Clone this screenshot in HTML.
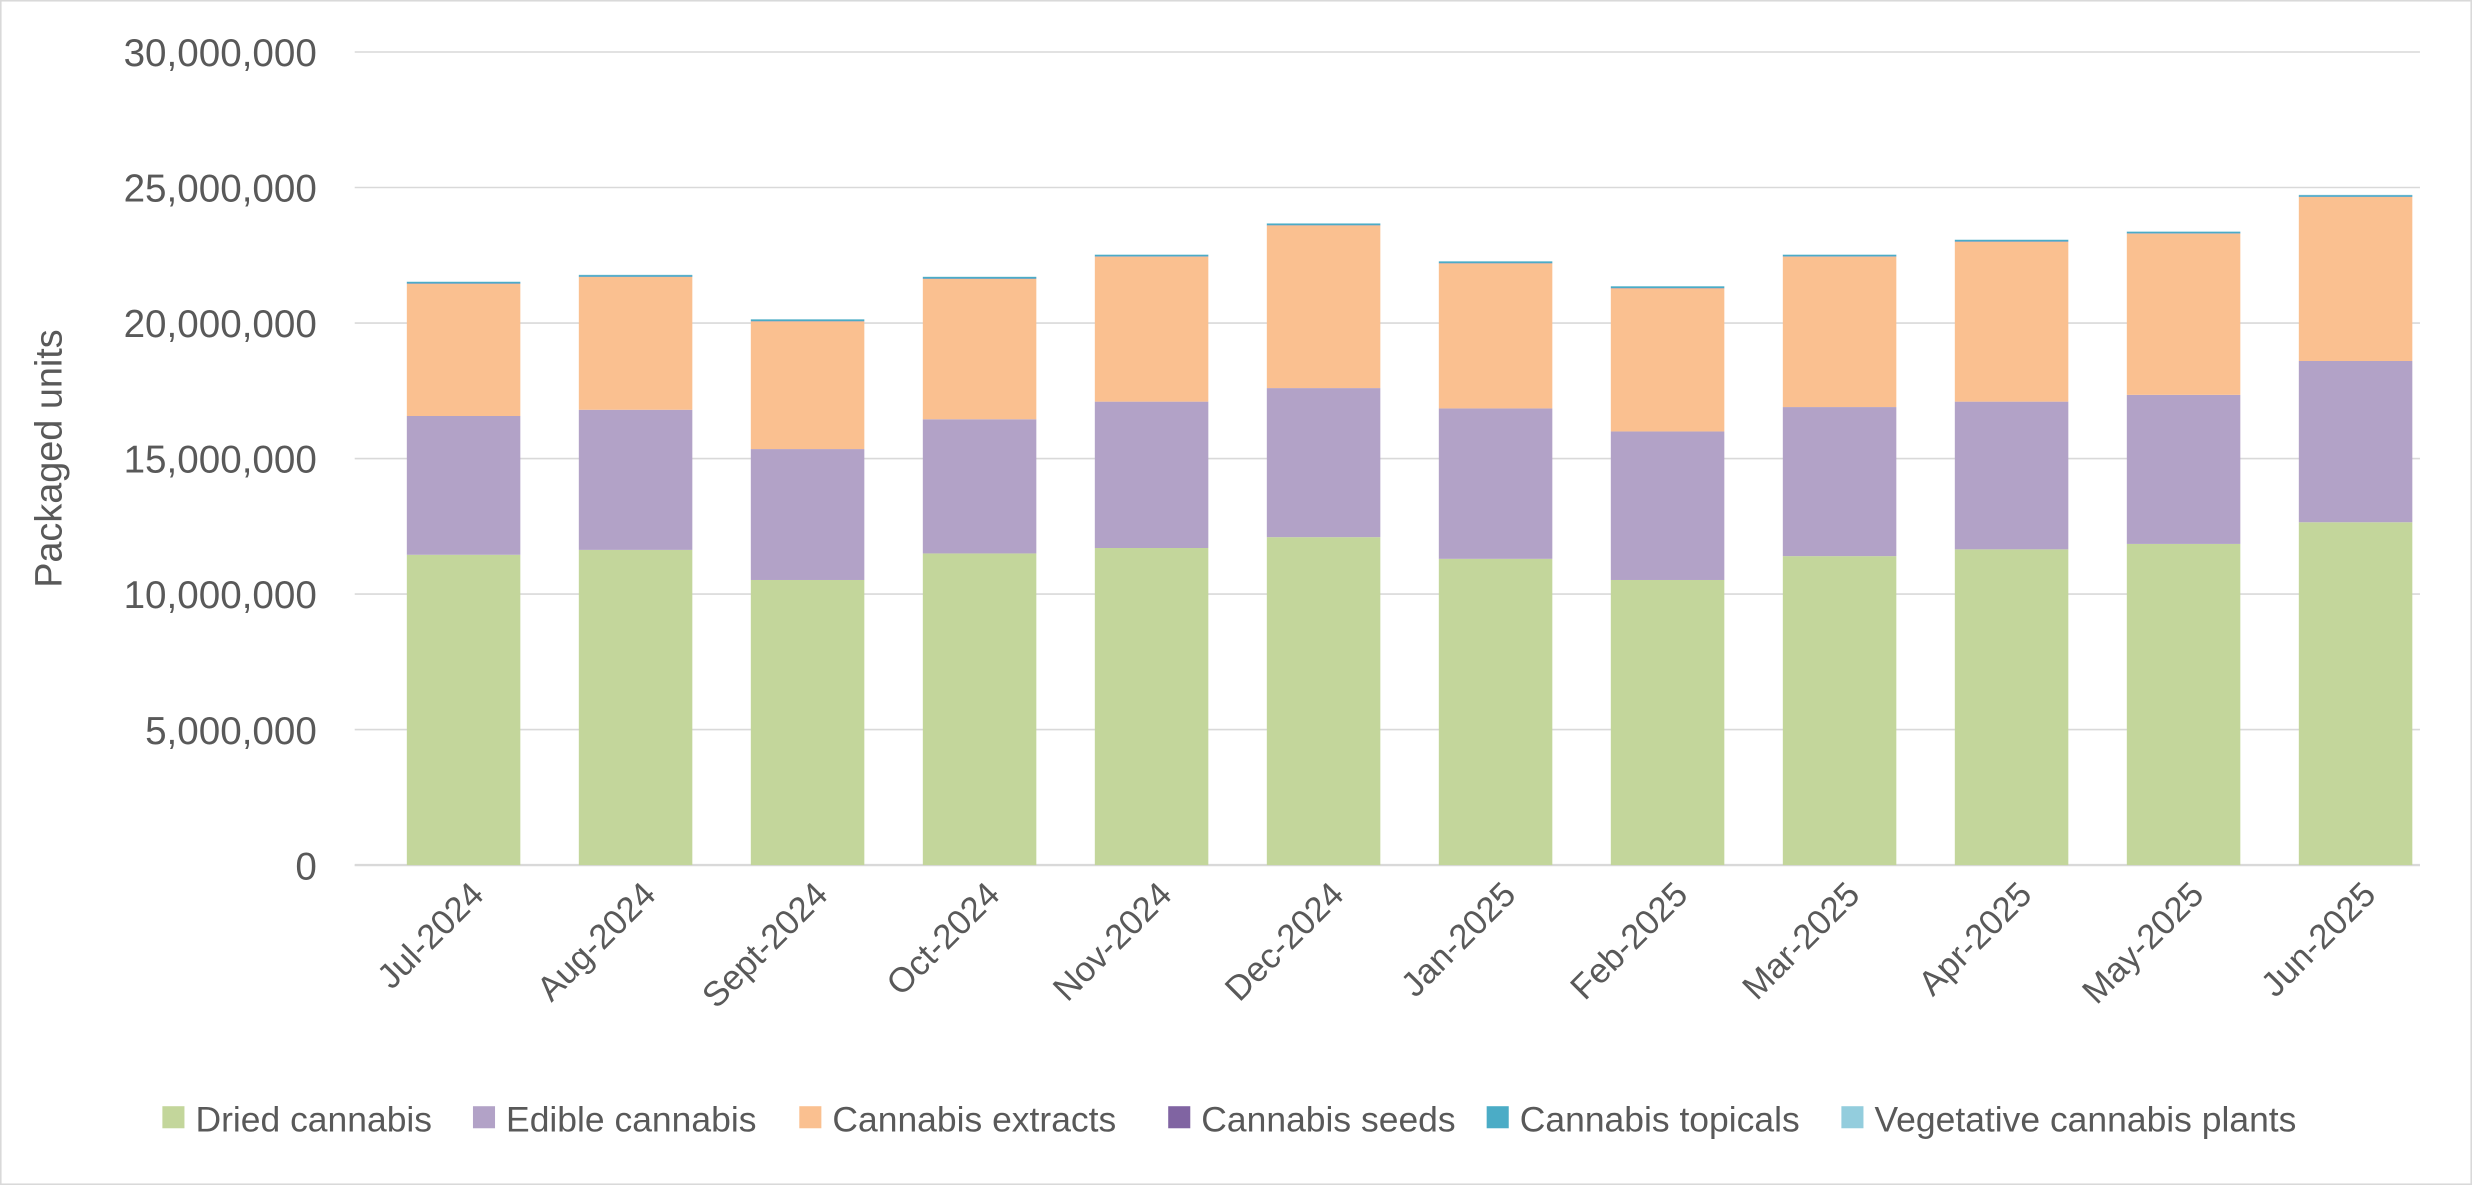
<!DOCTYPE html>
<html><head><meta charset="utf-8"><style>
body{margin:0;background:#fff;}
svg{display:block;font-family:"Liberation Sans",sans-serif;}
</style></head><body>
<svg id="chart" width="2472" height="1185" viewBox="0 0 1568 752" preserveAspectRatio="none" xmlns="http://www.w3.org/2000/svg">
<rect x="0.5" y="0.5" width="1567" height="751" fill="#fff" stroke="#d9d9d9"/>
<g id="grid"></g><g id="bars"></g><g id="ylabels"></g><g id="xlabels"></g>
<text transform="translate(39,291) rotate(-90)" text-anchor="middle" font-size="24" fill="#595959">Packaged units</text>
<g id="legend"></g>
</svg>
<script>
const categories=["Jul-2024","Aug-2024","Sept-2024","Oct-2024","Nov-2024","Dec-2024","Jan-2025","Feb-2025","Mar-2025","Apr-2025","May-2025","Jun-2025"];
const dried=[11450000,11630000,10520000,11500000,11700000,12100000,11300000,10520000,11400000,11650000,11850000,12650000];
const edible=[5120000,5170000,4830000,4950000,5400000,5500000,5550000,5480000,5500000,5450000,5500000,5950000];
const extracts=[4880000,4900000,4710000,5180000,5350000,6000000,5350000,5280000,5550000,5900000,5950000,6050000];
const seeds=[10000,10000,10000,10000,10000,10000,10000,10000,10000,10000,10000,10000];
const topicals=[60000,60000,60000,60000,60000,60000,60000,60000,60000,60000,60000,60000];
const vegetative=[10000,10000,10000,10000,10000,10000,10000,10000,10000,10000,10000,10000];
const yTicks=[0,5000000,10000000,15000000,20000000,25000000,30000000];
const seriesNames=["Dried cannabis","Edible cannabis","Cannabis extracts","Cannabis seeds","Cannabis topicals","Vegetative cannabis plants"];
const series=[dried,edible,extracts,seeds,topicals,vegetative];
const colors=["#c3d69b","#b2a2c7","#fac090","#8064a2","#4bacc6","#93cddd"];
const NS="http://www.w3.org/2000/svg";
const gx0=225,gx1=1535,x0=239.5,y0=549,y1=33,yMax=30000000;
const band=109.1,bw=72;
const y=v=>y0-(v/yMax)*(y0-y1);
const xc=i=>x0+band*(i+0.5);
function mk(tag,parent,attrs){const e=document.createElementNS(NS,tag);for(const k in attrs)e.setAttribute(k,attrs[k]);document.getElementById(parent).appendChild(e);return e;}
yTicks.forEach(t=>{
 const l=mk("line","grid",{x1:gx0,x2:gx1,y1:y(t),y2:y(t),stroke:"#d9d9d9","stroke-width":1});
 
 
 const tx=mk("text","ylabels",{x:201,y:y(t)+9,"text-anchor":"end","font-size":24.5,fill:"#595959"});
 tx.textContent=t.toLocaleString("en-US");
 
 
});
categories.forEach((c,i)=>{
 let acc=0;
 series.forEach((s,k)=>{
  const r=mk("rect","bars",{x:xc(i)-bw/2,y:y(acc+s[i]),width:bw,height:y(acc)-y(acc+s[i]),fill:colors[k]});
  
  
  acc+=s[i];
 });
 const t=mk("text","xlabels",{transform:`translate(${xc(i)+14},${y0+20}) rotate(-45)`,"text-anchor":"end","font-size":22,fill:"#595959"});
 t.textContent=c;
 
 
});
mk("line","grid",{x1:gx0,x2:gx1,y1:y0,y2:y0,stroke:"#d9d9d9","stroke-width":1.5});
const legX=[103,300,507,741,943,1168];
seriesNames.forEach((n,k)=>{
 const g=mk("g","legend",{});
 
 
 const r=document.createElementNS(NS,"rect");
 r.setAttribute("x",legX[k]);r.setAttribute("y",702);r.setAttribute("width",14);r.setAttribute("height",14);r.setAttribute("fill",colors[k]);
 
 
 g.appendChild(r);
 const t=document.createElementNS(NS,"text");
 t.setAttribute("x",legX[k]+21);t.setAttribute("y",718);t.setAttribute("font-size",22.5);t.setAttribute("fill","#595959");
 t.textContent=n;
 
 
 g.appendChild(t);
});
</script>
</body></html>
